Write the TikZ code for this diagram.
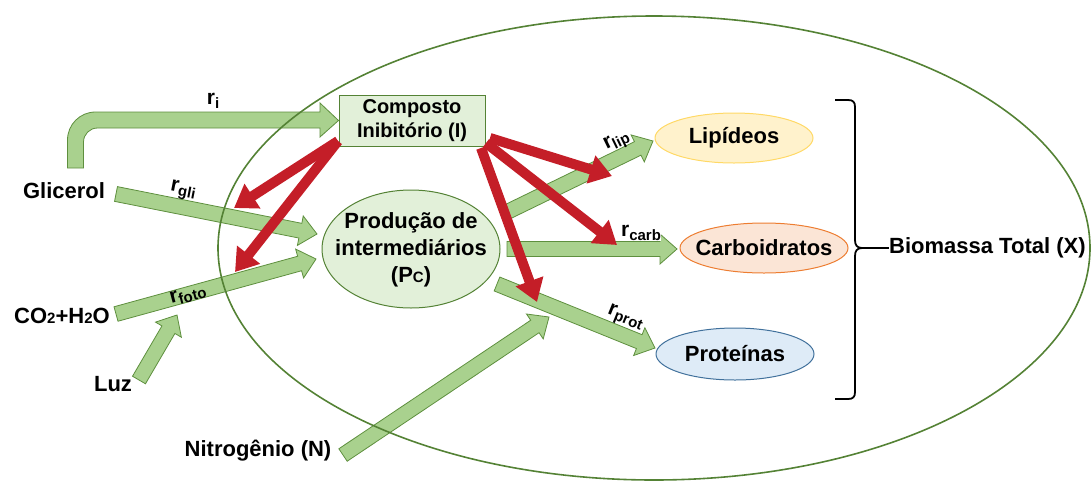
\documentclass[tikz,border=0pt]{standalone}
\usepackage{fontspec}
\setmainfont{Liberation Sans}
\usetikzlibrary{calc,arrows.meta,shapes.geometric}
\definecolor{gfill}{HTML}{A9D18E}
\definecolor{gline}{HTML}{5E8F3E}
\definecolor{dgreen}{HTML}{548235}
\definecolor{lgreen}{HTML}{E2F0D9}
\definecolor{redarr}{HTML}{C41E28}
\definecolor{lipf}{HTML}{FFF2CC}
\definecolor{lipd}{HTML}{FFD966}
\definecolor{carf}{HTML}{FBE5D6}
\definecolor{card}{HTML}{ED7D31}
\definecolor{prof}{HTML}{DEEBF7}
\definecolor{prod}{HTML}{41719C}
\newcommand\rsub[1]{r\raisebox{-0.16em}{\fontsize{15}{15}\selectfont #1}}
\newcommand\fatarrow[2]{%
  \coordinate (fah) at ($(#2)!17pt!(#1)$);
  \draw[fat] ($(#1)!7.5pt!90:(#2)$) -- ($(fah)!7.5pt!90:(#2)$) -- ($(fah)!15pt!90:(#2)$) -- (#2)
    -- ($(fah)!15pt!-90:(#2)$) -- ($(fah)!7.5pt!-90:(#2)$) -- ($(#1)!7.5pt!-90:(#2)$) -- cycle;}
\tikzset{
  fat/.style={fill=gfill, draw=gline, line width=0.8pt, line join=miter},
  inhib/.style={draw=redarr, line width=10pt, -{Triangle[length=22pt,width=28pt]}},
  txt/.style={font=\bfseries\fontsize{22}{27}\selectfont, inner sep=0pt, align=center},
  lab/.style={font=\bfseries\fontsize{21}{24}\selectfont, inner sep=0.5pt},
  ellnode/.style={ellipse, draw, line width=1pt, inner sep=0pt},
}
\begin{document}
\begin{tikzpicture}[x=1pt,y=-1pt]
\useasboundingbox (0,0) rectangle (1092,480);
% nodes
\node[draw=dgreen, fill=lgreen, line width=1pt, minimum width=146pt, minimum height=51pt, inner sep=0pt] (inh) at (412,120.5) {};
\node[txt, font=\bfseries\fontsize{20}{24}\selectfont] (inhT) at (inh) {Composto\\Inibitório (I)};
\node[ellnode, draw=dgreen, fill=lgreen, minimum width=178pt, minimum height=118pt] (pc) at (411,249) {};
\node[txt] (pcT) at (411,250) {Produção de\\intermediários\\(P{\fontsize{15}{15}\selectfont C})};
\node[ellnode, draw=lipd, fill=lipf, minimum width=158pt, minimum height=50pt] (lip) at (734,138) {};
\node[txt] (lipT) at (lip) {Lipídeos};
\node[ellnode, draw=card, fill=carf, minimum width=168pt, minimum height=50pt] (car) at (764,248) {};
\node[txt] (carT) at (car) {Carboidratos};
\node[ellnode, draw=prod, fill=prof, minimum width=158pt, minimum height=52pt] (pro) at (735,354) {};
\node[txt] (proT) at (pro) {Proteínas};
\node[txt] (glic) at (64,191) {Glicerol};
\node[txt] (co2) at (62,316) {CO{\fontsize{15}{15}\selectfont 2}+H{\fontsize{15}{15}\selectfont 2}O};
\node[txt] (luz) at (113,384) {Luz};
\node[txt] (nit) at (258,451) {Nitrogênio (N)};
\node[txt, anchor=west] (bio) at (889,248) {Biomassa Total (X)};
% bent arrow r_i
\draw[fat] (67.5,168) -- (67.5,140) .. controls (67.5,124.5) and (80,112) .. (95.5,112)
  -- (320,112) -- (320,103) -- (inh.west) -- (320,137) -- (320,128) -- (97.5,128)
  .. controls (89.8,128) and (83.5,134.3) .. (83.5,142) -- (83.5,168) -- cycle;
% green arrows
\coordinate (gliS) at (116,194); \coordinate (gliE) at (317,234);
\coordinate (fotS) at (116,314); \coordinate (fotE) at (316,259);
\coordinate (luzS) at (139,380); \coordinate (luzE) at (177,315);
\coordinate (nS) at (343,455);   \coordinate (nE) at (549,317);
\coordinate (lipS) at (505,213); \coordinate (lipE) at (653,141);
\coordinate (carS) at (507,249); \coordinate (carE) at (677,249);
\coordinate (proS) at (497,284); \coordinate (proE) at (655,348);
\fatarrow{gliS}{gliE}
\fatarrow{fotS}{fotE}
\fatarrow{luzS}{luzE}
\fatarrow{nS}{nE}
\fatarrow{lipS}{lipE}
\fatarrow{carS}{carE}
\fatarrow{proS}{proE}
% big cell ellipse
\draw[dgreen, line width=1.6pt] (654,248) ellipse [x radius=436pt, y radius=232pt];
% rate labels
\node[lab] (lri) at (213,101) {\rsub{i}};
\node[lab, rotate=-11] (lgli) at (183,191) {\rsub{gli}};
\node[lab, rotate=15] (lfoto) at (188,295) {\rsub{foto}};
\node[lab, rotate=26] (llip) at (617,142) {\rsub{lip}};
\node[lab, rotate=-22] (lprot) at (625,318) {\rsub{prot}};
% inhibition arrows
\coordinate (iL) at (338,141);
\coordinate (r1E) at (234,208);
\coordinate (r2E) at (235,272);
\coordinate (iR1) at (490,138); \coordinate (r3E) at (612,176);
\coordinate (iR2) at (486,143); \coordinate (r4E) at (617,245);
\coordinate (iR3) at (481,148); \coordinate (r5E) at (537,302);
\draw[inhib] (iL) -- (r1E);
\draw[inhib] (iL) -- (r2E);
\draw[inhib] (iR1) -- (r3E);
\draw[inhib] (iR2) -- (r4E);
\draw[inhib] (iR3) -- (r5E);
\node[lab, fill=white] (lcarb) at (641,233) {\rsub{carb}};
% brace
\draw[black, line width=1.8pt] (835,100) -- (848,100) .. controls (853,100) and (855,102) .. (855,107)
  -- (855,240) .. controls (855,245) and (857,248) .. (862,248)
  .. controls (857,248) and (855,251) .. (855,256) -- (855,392)
  .. controls (855,397) and (853,399) .. (848,399) -- (835,399);
\coordinate (braceTip) at (862,248);
\draw[black, line width=1.5pt] (braceTip) -- (bio.west);
\end{tikzpicture}
\end{document}
